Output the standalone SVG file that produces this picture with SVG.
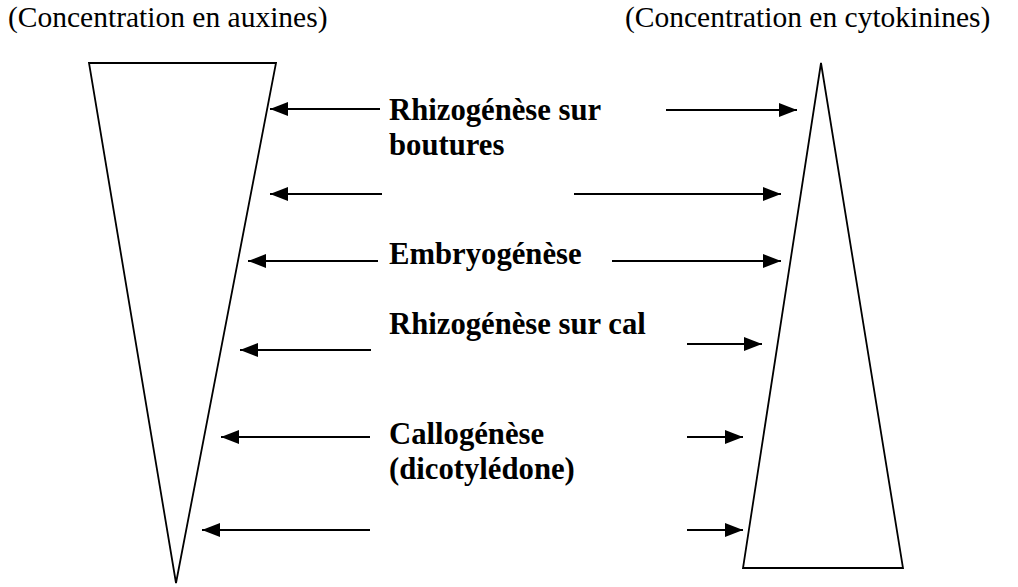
<svg xmlns="http://www.w3.org/2000/svg" width="1018" height="587" viewBox="0 0 1018 587">
<defs>
<marker id="ah" viewBox="0 0 18 14" refX="18" refY="7" markerWidth="18" markerHeight="14" markerUnits="userSpaceOnUse" orient="auto">
<path d="M0,0 L18,7 L0,14 Z" fill="#000"/>
</marker>
<style>
.tri{fill:none;stroke:#000;stroke-width:1.8;stroke-linejoin:miter}
.arr{stroke:#000;stroke-width:1.8;fill:none;marker-end:url(#ah)}
.hdr{font-family:"Liberation Serif","Times New Roman",serif;font-size:29.5px;fill:#000}
.lbl{font-family:"Liberation Serif","Times New Roman",serif;font-size:30.7px;font-weight:bold;fill:#000}
</style>
</defs>
<rect width="1018" height="587" fill="#fff"/>
<g id="header-auxines"><text class="hdr" x="8" y="27">(Concentration en auxines)</text></g>
<g id="header-cytokinines"><text class="hdr" x="625" y="27">(Concentration en cytokinines)</text></g>
<g id="triangle-auxines"><polygon class="tri" points="89,63 276,63 176,583"/></g>
<g id="triangle-cytokinines"><polygon class="tri" points="821,63 743,568 903,568"/></g>
<g id="label-rhizo-boutures"><text class="lbl" x="389" y="120">Rhizogénèse sur</text><text class="lbl" x="389" y="155">boutures</text></g>
<g id="label-embryo"><text class="lbl" x="389" y="264">Embryogénèse</text></g>
<g id="label-rhizo-cal"><text class="lbl" x="389" y="334">Rhizogénèse sur cal</text></g>
<g id="label-callo"><text class="lbl" x="389" y="444">Callogénèse</text><text class="lbl" x="389" y="479">(dicotylédone)</text></g>
<g id="connectors">
<line class="arr" x1="380" y1="109" x2="270" y2="109"/>
<line class="arr" x1="666" y1="110" x2="797" y2="110"/>
<line class="arr" x1="382" y1="194" x2="270" y2="194"/>
<line class="arr" x1="574" y1="194" x2="781" y2="194"/>
<line class="arr" x1="378" y1="261" x2="248" y2="261"/>
<line class="arr" x1="612" y1="261" x2="781" y2="261"/>
<line class="arr" x1="371" y1="350" x2="240" y2="350"/>
<line class="arr" x1="687" y1="344" x2="762" y2="344"/>
<line class="arr" x1="370" y1="437" x2="221" y2="437"/>
<line class="arr" x1="687" y1="437" x2="743" y2="437"/>
<line class="arr" x1="370" y1="530" x2="202" y2="530"/>
<line class="arr" x1="687" y1="530" x2="743" y2="530"/>
</g>
</svg>
